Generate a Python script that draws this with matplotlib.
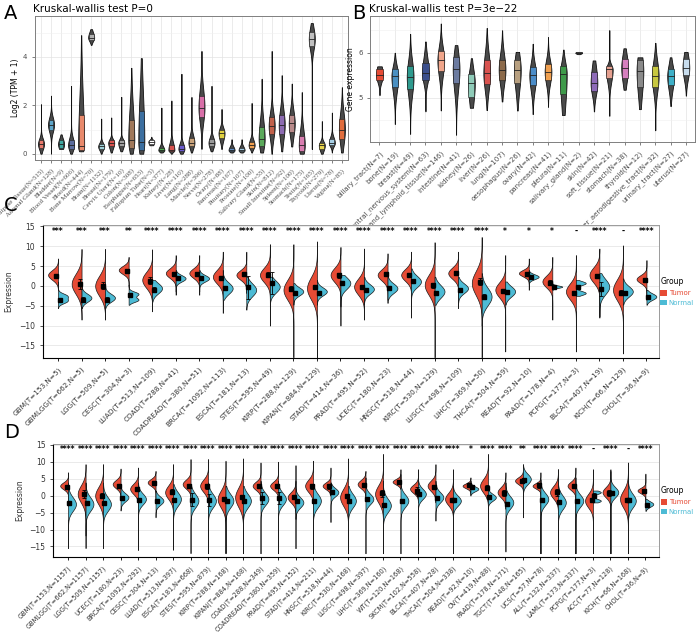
import numpy as np
import matplotlib.pyplot as plt
from matplotlib.patches import Patch

# ---------------- panel A: GTEx tissues (box stats, log2 TPM+1) ----------------
a_names = ['Adipose Tissue(N=515)', 'Adrenal Gland(N=128)', 'Bladder(N=9)', 'Blood Vessel(N=606)',
           'Blood(N=444)', 'Bone Marrow(N=70)', 'Brain(N=1152)', 'Breast(N=179)', 'Cervix Uteri(N=10)',
           'Colon(N=308)', 'Esophagus(N=653)', 'Fallopian Tube(N=5)', 'Heart(N=377)', 'Kidney(N=28)',
           'Liver(N=110)', 'Lung(N=288)', 'Muscle(N=396)', 'Nerve(N=278)', 'Ovary(N=88)',
           'Pancreas(N=167)', 'Pituitary(N=107)', 'Prostate(N=100)', 'Salivary Gland(N=55)',
           'Skin(N=812)', 'Small Intestine(N=92)', 'Spleen(N=100)', 'Stomach(N=175)', 'Testis(N=165)',
           'Thyroid(N=279)', 'Uterus(N=78)', 'Vagina(N=85)']
a_min = [0, 0, 0.2, 0, 0.1, 4.5, 0, 0.05, 0.1, 0, 0, 0.35, 0.05, 0, 0, 0.05, 0.2, 0.1, 0.2, 0.05,
         0.05, 0.05, 0.05, 0, 0.1, 0.3, 0, 0.2, 0, 0.05, 0.05]
a_q1 = [0.25, 1.0, 0.25, 0.2, 0.15, 4.7, 0.2, 0.3, 0.3, 0.25, 0.15, 0.4, 0.1, 0.1, 0.1, 0.3, 1.5,
        0.3, 0.65, 0.1, 0.1, 0.25, 0.3, 0.8, 0.8, 0.9, 0.1, 4.45, 0.2, 0.35, 0.6]
a_med = [0.4, 1.2, 0.4, 0.35, 0.3, 4.8, 0.3, 0.45, 0.45, 0.55, 0.5, 0.5, 0.15, 0.15, 0.2, 0.45, 1.9,
         0.45, 0.85, 0.15, 0.15, 0.35, 0.6, 1.15, 1.2, 1.25, 0.35, 4.75, 0.35, 0.45, 1.0]
a_q3 = [0.55, 1.4, 0.55, 0.55, 1.6, 4.95, 0.4, 0.55, 0.55, 1.4, 1.75, 0.55, 0.25, 0.35, 0.35, 0.65,
        2.4, 0.6, 1.0, 0.25, 0.25, 0.5, 1.1, 1.5, 1.6, 1.6, 0.75, 5.05, 0.45, 0.6, 1.45]
a_max = [2.05, 2.4, 0.8, 2.8, 4.9, 5.15, 1.45, 1.5, 2.35, 3.55, 3.95, 0.7, 1.9, 2.2, 3.3, 2.35, 4.25,
         2.8, 1.85, 0.6, 0.6, 2.1, 3.1, 4.25, 3.25, 2.9, 2.55, 5.4, 1.35, 1.7, 2.75]
a_cols = ['#E8796B', '#5DA5C9', '#3FA7A0', '#5B6C9E', '#E8896B', '#B0B0B0', '#9ED0D8', '#D9534F',
          '#A0A0A0', '#A0785A', '#3C6FA0', '#FFFFFF', '#4CAF50', '#D9534F', '#6A5ACD', '#C8A27A',
          '#D86FA8', '#9A9A9A', '#E0D040', '#5C8BC0', '#9EC9E2', '#F0A050', '#5BA95B', '#C0604A',
          '#8C6BB1', '#B88A8A', '#D97DB0', '#C0C0C0', '#E8D44D', '#A8D0E6', '#E06C3C']

# ---------------- panel B: CCLE cell lines ----------------
b_names = ['biliary_tract(N=7)', 'bone(N=19)', 'breast(N=49)', 'central_nervous_system(N=63)',
           'haematopoietic_and_lymphoid_tissue(N=146)', 'intestine(N=41)', 'kidney(N=26)',
           'liver(N=26)', 'lung(N=107)', 'oesophagus(N=26)', 'ovary(N=42)', 'pancreas(N=41)',
           'pleura(N=11)', 'salivary_gland(N=2)', 'skin(N=42)', 'soft_tissue(N=21)', 'stomach(N=38)',
           'thyroid(N=12)', 'upper_aerodigestive_tract(N=32)', 'urinary_tract(N=27)', 'uterus(N=27)']
b_min = [5.06, 4.42, 4.2, 4.7, 4.72, 4.18, 4.78, 4.73, 4.92, 4.72, 4.64, 4.8, 4.62, 5.97, 4.7, 4.6,
         5.18, 4.75, 4.28, 4.82, 5.05]
b_q1 = [5.4, 5.25, 5.2, 5.4, 5.6, 5.33, 5.03, 5.3, 5.4, 5.33, 5.28, 5.4, 5.08, 5.985, 5.15, 5.45,
        5.45, 5.25, 5.25, 5.28, 5.5]
b_med = [5.5, 5.48, 5.46, 5.55, 5.83, 5.64, 5.33, 5.55, 5.62, 5.62, 5.5, 5.58, 5.53, 6.0, 5.32, 5.63,
         5.67, 5.6, 5.48, 5.48, 5.67]
b_q3 = [5.65, 5.63, 5.7, 5.77, 6.03, 5.9, 5.53, 5.83, 5.85, 5.85, 5.68, 5.75, 5.7, 6.015, 5.57, 5.7,
        5.87, 5.85, 5.7, 5.65, 5.87]
b_max = [5.7, 6.0, 6.42, 6.25, 6.65, 6.17, 5.88, 6.55, 6.5, 6.02, 6.2, 6.35, 6.07, 6.02, 5.83, 6.5,
         6.1, 5.9, 6.22, 5.9, 6.02]
b_cols = ['#E64B35', '#4A90C2', '#2E9A8E', '#3B4F8C', '#F0A58A', '#6C7BA0', '#8FCBB8', '#D9534F',
          '#8C6A4A', '#B8A080', '#4A8CC8', '#F0A050', '#3E9A4A', '#888888', '#8E6BB8', '#E5A090',
          '#D67FBF', '#8A8A8A', '#C8C840', '#3EB0C8', '#C8DDEE']

# ---------------- panel C: tumor vs normal (TCGA) ----------------
c_names = ['GBM(T=153,N=5)', 'GBMLGG(T=662,N=5)', 'LGG(T=509,N=5)', 'CESC(T=304,N=3)',
           'LUAD(T=513,N=109)', 'COAD(T=288,N=41)', 'COADREAD(T=380,N=51)', 'BRCA(T=1092,N=113)',
           'ESCA(T=181,N=13)', 'STES(T=595,N=49)', 'KIRP(T=288,N=129)', 'KIPAN(T=884,N=129)',
           'STAD(T=414,N=36)', 'PRAD(T=495,N=52)', 'UCEC(T=180,N=23)', 'HNSC(T=518,N=44)',
           'KIRC(T=530,N=129)', 'LUSC(T=498,N=109)', 'LIHC(T=369,N=50)', 'THCA(T=504,N=59)',
           'READ(T=92,N=10)', 'PAAD(T=178,N=4)', 'PCPG(T=177,N=3)', 'BLCA(T=407,N=19)',
           'KICH(T=66,N=129)', 'CHOL(T=36,N=9)']
c_stars = ['***', '***', '***', '**'] + ['****'] * 15 + ['*', '*', '*', '-', '****', '-', '****']
c_t_mid = [2.75, 0.5, 0, 4, 1.5, 3.2, 3.2, 2.3, 2.75, 2.75, -1, -0.6, 2.75, -0.2, 2.75, 2.75, 0.25,
           3.2, 0.7, -1, 3.2, 1.1, -1.4, 2.75, -1, 1.7]
c_t_sd = [1.2, 2.5, 2.5, 1.0, 2.0, 1.2, 1.2, 1.7, 1.2, 1.8, 2.5, 2.8, 1.8, 2.0, 1.4, 1.5, 2.5, 1.4,
          3.0, 1.9, 0.8, 1.5, 2.0, 1.9, 2.6, 1.0]
c_t_lo = [-1, -8.5, -8.5, 0, -6.4, -2.25, -2.25, -6.8, -1.8, -10, -18, -18, -10, -8.5, -4.3, -8,
          -18, -5.6, -18, -16.5, -1, -8.5, -16.5, -8, -17, -3.5]
c_t_hi = [6.9, 9.3, 9.3, 7.3, 9.2, 7.75, 7.75, 8.6, 8.6, 10.5, 10.5, 11.2, 9.8, 9.4, 8.2, 8.6, 11,
          8.6, 12.3, 7.75, 6.9, 7.3, 7.75, 9.4, 10.2, 6.5]
c_n_mid = [-2.5, -3, -3, -2, -0.6, 1.9, 1.9, -0.6, -1, -0.2, -1.4, -1.4, 0.7, -0.8, -0.6, 1.1, -1.4,
           -0.6, -2.7, -1.4, 2.3, -0.2, 0.7, -0.2, -1.4, -2.7]
c_n_mid2 = [-3.8, np.nan, np.nan, -3.5, np.nan, np.nan, np.nan, np.nan, np.nan, np.nan, np.nan,
            np.nan, np.nan, np.nan, np.nan, np.nan, np.nan, np.nan, np.nan, np.nan, np.nan, np.nan,
            -1.8, np.nan, np.nan, np.nan]
c_n_sd = [0.6, 1.0, 1.0, 0.55, 1.3, 0.8, 0.8, 1.4, 1.6, 1.5, 1.0, 1.0, 1.5, 1.2, 1.2, 1.4, 1.6, 1.2,
          2.2, 1.3, 0.6, 0.3, 0.5, 1.9, 1.3, 0.8]
c_n_lo = [-5.6, -5.6, -5.6, -4.75, -4, -1.4, -1.4, -3.5, -6, -5.2, -4.75, -4.75, -5.2, -4.75, -3.5,
          -4.75, -4.75, -4.2, -10, -4.75, 0.5, -1, -2.5, -7.7, -4.75, -4.75]
c_n_hi = [1.1, 0.7, 0.7, 0.25, 1.5, 4, 4, 4, 2.3, 2.3, 0.7, 1.5, 2.75, 2.3, 2.75, 4.4, 2.3, 2.3,
          3.2, 1.1, 4, 0.6, 1.5, 3.2, 1.9, -1]
c_t_pt = [2.6, 0.5, 0, 3.7, 1.3, 3, 3, 2, 3, 2.8, -0.7, -0.3, 2.7, -0.3, 3, 2.75, 0.1, 3.2, 1.1,
          -1.4, 2.9, 0.8, -1.7, 2.5, -1.7, 1.5]
c_n_pt = [-3.5, -3.5, -3.5, -2.3, -1, 2, 2, -0.5, -0.3, 0.8, -1.7, -1.7, 0.8, -1, -0.6, 1.3, -1.8,
          -1, -2.7, -1.6, 2.2, -0.3, -0.2, -0.8, -1.7, -2.9]
c_t_err = [0.5, 1.3, 0.9, 0.5, 0.9, 0.5, 0.5, 0.6, 0.5, 0.6, 0.6, 0.5, 0.6, 0.5, 0.5, 0.5, 0.6, 0.5,
           1.0, 0.5, 0.5, 0.7, 0.5, 0.5, 0.6, 0.5]
c_n_err = [0.5, 0.6, 0.6, 0.5, 0.6, 0.4, 0.4, 0.5, 2.9, 2.8, 0.5, 0.5, 0.5, 0.5, 0.5, 0.5, 0.5, 0.5,
           0.6, 0.5, 0.4, 0.3, 0.5, 1.8, 0.5, 0.5]

# ---------------- panel D: tumor vs normal (TCGA + GTEx) ----------------
d_names = ['GBM(T=153,N=1157)', 'GBMLGG(T=662,N=1157)', 'LGG(T=509,N=1157)', 'UCEC(T=180,N=23)',
           'BRCA(T=1092,N=292)', 'CESC(T=304,N=13)', 'LUAD(T=513,N=397)', 'ESCA(T=181,N=668)',
           'STES(T=595,N=879)', 'KIRP(T=288,N=168)', 'KIPAN(T=884,N=168)', 'COAD(T=288,N=349)',
           'COADREAD(T=380,N=359)', 'PRAD(T=495,N=152)', 'STAD(T=414,N=211)', 'HNSC(T=518,N=44)',
           'KIRC(T=530,N=168)', 'LUSC(T=498,N=397)', 'LIHC(T=369,N=160)', 'WT(T=120,N=168)',
           'SKCM(T=102,N=558)', 'BLCA(T=407,N=28)', 'THCA(T=504,N=338)', 'READ(T=92,N=10)',
           'OV(T=419,N=88)', 'PAAD(T=178,N=171)', 'TGCT(T=148,N=165)', 'UCS(T=57,N=78)',
           'ALL(T=132,N=337)', 'LAML(T=173,N=337)', 'PCPG(T=177,N=3)', 'ACC(T=77,N=128)',
           'KICH(T=66,N=168)', 'CHOL(T=36,N=9)']
d_stars = ['****'] * 23 + ['*', '****', '****', '**', '****', '****', '****', '-', '****', '-', '****']
d_t_mid = [2.9, 0.5, 0, 3.4, 2, 3.9, 1, 3.4, 2.9, -1, -0.5, 2.9, 2.9, -0.5, 2.9, 2.9, -0.5, 3.4, 0.5,
           4.1, 2, 2.9, -1, 2.9, 2.9, 1, 4.4, 2.9, 1, 2.9, -1.5, 1, -1, 1.5]
d_t_sd = [1.0, 2.5, 2.5, 1.2, 1.5, 1.0, 2.0, 1.3, 1.8, 2.5, 2.8, 1.2, 1.2, 1.5, 1.8, 1.0, 2.5, 1.2,
          2.5, 0.8, 1.2, 1.5, 1.8, 0.7, 2.0, 1.5, 1.0, 0.8, 1.8, 1.2, 2.0, 1.5, 2.5, 0.8]
d_t_lo = [-3, -11.8, -11.8, -0.5, -6.4, -1, -6.9, -3, -8.8, -17, -17, -1.5, -1.5, -6.9, -7.8, 0,
          -17, -1, -17, 2, -2, -2, -17, 0, -17, -3.9, -5.9, -17, -17, -17, -17, -17, -17, -3.5]
d_t_hi = [6.9, 9.3, 9.3, 8, 8.3, 7.3, 9.3, 10.8, 10.8, 10.3, 11, 9.8, 10, 9, 10.3, 8.3, 11, 7.3,
          12.3, 7.8, 7.3, 9.3, 7.8, 5.4, 12.3, 6.9, 8.8, 6.9, 7.8, 8.3, 7.8, 7.8, 9.8, 6.5]
d_n_mid = [-2.5, -2.5, -2.5, -0.5, -1, -1.5, -1, -1.5, -1.5, -1.5, -1.5, -1, -1, -2, -1.5, 1, -1.5,
           -1, -2.9, -1.5, 0.5, -0.5, -1.5, 2, -0.5, -2, 4.9, -1, -2, -1.5, 1, 1, -1.5, -2.5]
d_n_mid2 = [np.nan] * 30 + [-1.5, np.nan, np.nan, np.nan]
d_n_sd = [2.0, 2.0, 2.0, 1.2, 1.6, 1.2, 2.0, 2.0, 2.0, 2.0, 2.0, 1.8, 1.8, 1.5, 2.0, 1.2, 2.0, 1.5,
          2.0, 1.8, 1.5, 1.5, 1.5, 0.7, 1.0, 1.8, 1.5, 1.8, 2.0, 1.8, 0.5, 1.5, 2.0, 0.8]
d_n_lo = [-15.5, -15.5, -15.5, -4.4, -16, -6.4, -16, -17, -17, -17, -17, -17, -17, -15.5, -17, -7.8,
          -17, -17, -17, -17, -17, -7.4, -16.5, 0.5, -3.4, -16.5, -6.4, -17, -17, -17, -2, -17, -17,
          -4.5]
d_n_hi = [3.9, 3.9, 3.9, 3.4, 3.9, 1.5, 3.4, 2.9, 3.9, 2.9, 2.9, 4.4, 4.4, 4.4, 3.4, 3.9, 2.9, 5.4,
          4.4, 6.4, 7.8, 4.4, 2.9, 4.5, 2.9, 3.9, 9.3, 4.9, 7.8, 5.4, 1.5, 7.3, 4.9, -1]
d_t_pt = [2.5, 0.5, 0, 2.9, 2, 3.7, 1.2, 2.9, 2.7, -1, -0.3, 2.9, 2.9, -0.5, 2.7, 2.7, 0, 3.2, 0.7,
          4, 1.5, 2.5, -1.2, 3, 2.4, 0.7, 4.4, 3, 1, 2.9, -1.3, 0.8, -1.3, 1.5]
d_n_pt = [-2.3, -2.3, -2.3, -0.6, -1.3, -1.7, -1.3, -1.2, -1.3, -1.5, -1.7, -0.7, -0.7, -1.5, -1.5,
          1, -1.5, -1, -2.7, -1.5, 0.5, -0.8, -1.2, 2.5, -0.4, -2.4, 4.6, -1.2, -2, -1.5, 0, 0.8,
          -1.3, -2.9]
d_t_err = [0.4, 1.2, 0.8, 0.5, 0.4, 0.5, 0.8, 0.6, 0.6, 0.6, 0.5, 0.6, 0.6, 0.5, 0.6, 0.6, 0.5, 0.5,
           1.0, 0.4, 1.0, 0.6, 0.5, 0.5, 0.6, 0.9, 0.5, 0.8, 1.0, 0.5, 0.6, 0.8, 0.6, 0.5]
d_n_err = [0.5, 0.5, 0.5, 0.5, 0.5, 0.6, 0.5, 2.0, 1.8, 0.6, 0.5, 1.8, 1.8, 0.6, 0.6, 0.6, 0.6, 0.6,
           0.6, 0.5, 0.5, 0.6, 0.5, 0.5, 0.6, 0.6, 0.6, 0.6, 0.6, 0.6, 0.8, 0.6, 0.6, 0.5]

TUMOR = '#E64B35'
NORMAL = '#4DBBD5'


def shape(lo, hi, mids, sds):
    y = np.linspace(lo, hi, 300)
    d = np.zeros_like(y)
    for m, s in zip(mids, sds):
        d += np.exp(-0.5 * ((y - m) / s) ** 2)
    return y, d / d.max()


def box_shape(lo, q1, med, q3, hi):
    y = np.linspace(lo, hi, 300)
    sl = max((med - q1) / 0.674, 0.02)
    sr = max((q3 - med) / 0.674, 0.02)
    d = np.where(y < med, np.exp(-0.5 * ((y - med) / sl) ** 2), np.exp(-0.5 * ((y - med) / sr) ** 2))
    return y, d / d.max()


def bw_axes(ax):
    for sp in ax.spines.values():
        sp.set_color('#7f7f7f')
        sp.set_linewidth(0.7)
    ax.grid(True, which='major', color='#e3e3e3', lw=0.5)
    ax.grid(True, which='minor', color='#f0f0f0', lw=0.4)
    ax.set_axisbelow(True)
    ax.tick_params(length=2, width=0.5, labelsize=5, colors='#4d4d4d', which='major')
    ax.tick_params(which='minor', length=0)


def box_violin(ax, mins, q1s, meds, q3s, maxs, cols, vw, bw):
    for i in range(len(meds)):
        x = i + 1
        y, d = box_shape(mins[i], q1s[i], meds[i], q3s[i], maxs[i])
        ax.fill_betweenx(y, x - vw * d, x + vw * d, facecolor='#4a4a4a', edgecolor='#111111',
                         lw=0.6, zorder=2)
        ax.add_patch(plt.Rectangle((x - bw, q1s[i]), 2 * bw, q3s[i] - q1s[i], facecolor=cols[i],
                                   edgecolor='#222222', lw=0.4, zorder=3))
        ax.plot([x - bw, x + bw], [meds[i], meds[i]], color='#222222', lw=0.6, zorder=4)


def split_violins(ax, tm, tsd, tlo, thi, nm, nm2, nsd, nlo, nhi, tpt, npt, terr, nerr, w):
    for i in range(len(tm)):
        x = i + 1
        y, d = shape(tlo[i], thi[i], [tm[i]], [tsd[i]])
        ax.fill_betweenx(y, x - w * d, x, facecolor=TUMOR, edgecolor='#1a1a1a', lw=0.5, zorder=2)
        mids = [nm[i]] if np.isnan(nm2[i]) else [nm[i], nm2[i]]
        y, d = shape(nlo[i], nhi[i], mids, [nsd[i]] * len(mids))
        ax.fill_betweenx(y, x, x + w * d, facecolor=NORMAL, edgecolor='#1a1a1a', lw=0.5, zorder=2)
        ax.errorbar([x - 0.08], [tpt[i]], yerr=[terr[i]], fmt='s', ms=2.2, color='black',
                    capsize=1.3, elinewidth=0.6, capthick=0.6, zorder=4)
        ax.errorbar([x + 0.08], [npt[i]], yerr=[nerr[i]], fmt='s', ms=2.2, color='black',
                    capsize=1.3, elinewidth=0.6, capthick=0.6, zorder=4)


def tn_axes(ax, names, stars, fs):
    n = len(names)
    ax.set_ylim(-18.2, 15.3)
    ax.set_yticks([-15, -10, -5, 0, 5, 10, 15])
    ax.yaxis.grid(True, color='#e6e6e6', lw=0.6)
    ax.set_axisbelow(True)
    for s in ['top', 'right']:
        ax.spines[s].set_color('#9a9a9a')
        ax.spines[s].set_linewidth(0.7)
    for s in ['left', 'bottom']:
        ax.spines[s].set_color('black')
        ax.spines[s].set_linewidth(0.8)
    ax.set_xticks(range(1, n + 1))
    ax.set_xticklabels(names, rotation=45, ha='right', rotation_mode='anchor', fontsize=fs,
                       color='#333333')
    ax.tick_params(axis='y', labelsize=5.5, length=2, width=0.6, colors='#333333')
    ax.tick_params(axis='x', length=2, width=0.6)
    for i, s in enumerate(stars):
        ax.text(i + 1, 13.6, s, ha='center', va='center', fontsize=5.5, fontweight='bold')
    ax.set_ylabel('Expression', fontsize=5.5, color='#333333', labelpad=4)
    ax.legend(handles=[Patch(facecolor=TUMOR, label='Tumor'), Patch(facecolor=NORMAL, label='Normal')],
              title='Group', loc='center left', bbox_to_anchor=(0.995, 0.5), frameon=False,
              fontsize=5, title_fontsize=5.5, labelcolor=[TUMOR, NORMAL], handlelength=0.9,
              handleheight=0.9, handletextpad=0.3, borderaxespad=0.2, alignment='left')


fig = plt.figure(figsize=(7, 6.34), dpi=100)

# A
axA = fig.add_axes([0.05, 0.748, 0.447, 0.227])
box_violin(axA, a_min, a_q1, a_med, a_q3, a_max, a_cols, 0.3, 0.24)
axA.set_xlim(0.4, 31.6)
axA.set_ylim(-0.25, 5.7)
axA.set_yticks([0, 2, 4])
axA.set_yticks([1, 3, 5], minor=True)
axA.set_xticks(range(1, 32))
axA.set_xticklabels(a_names, rotation=45, ha='right', rotation_mode='anchor', fontsize=2.8,
                    family='Liberation Serif')
bw_axes(axA)
axA.set_ylabel('Log2 (TPM + 1)', fontsize=5.5, labelpad=2)
axA.set_title('Kruskal-wallis test P=0', loc='left', fontsize=7.5, pad=3, x=-0.005)

# B
axB = fig.add_axes([0.529, 0.776, 0.464, 0.199])
box_violin(axB, b_min, b_q1, b_med, b_q3, b_max, b_cols, 0.22, 0.2)
axB.set_xlim(0.4, 21.6)
axB.set_ylim(4.02, 6.82)
axB.set_yticks([5, 6])
axB.set_yticks([4.5, 5.5, 6.5], minor=True)
axB.set_xticks(range(1, 22))
axB.set_xticklabels(b_names, rotation=45, ha='right', rotation_mode='anchor', fontsize=3.0)
bw_axes(axB)
axB.set_ylabel('Gene expression', fontsize=5.5, labelpad=2)
axB.set_title('Kruskal-wallis test P=3e\u221222', loc='left', fontsize=7.5, pad=3, x=-0.005)

# C
axC = fig.add_axes([0.061, 0.435, 0.881, 0.21])
split_violins(axC, c_t_mid, c_t_sd, c_t_lo, c_t_hi, c_n_mid, c_n_mid2, c_n_sd, c_n_lo, c_n_hi,
              c_t_pt, c_n_pt, c_t_err, c_n_err, 0.42)
axC.set_xlim(0.35, 26.55)
tn_axes(axC, c_names, c_stars, 5.2)

# D
axD = fig.add_axes([0.076, 0.121, 0.866, 0.179])
split_violins(axD, d_t_mid, d_t_sd, d_t_lo, d_t_hi, d_n_mid, d_n_mid2, d_n_sd, d_n_lo, d_n_hi,
              d_t_pt, d_n_pt, d_t_err, d_n_err, 0.45)
axD.set_xlim(0.15, 34.8)
tn_axes(axD, d_names, d_stars, 4.8)

for lab, x, y in [('A', 0.006, 0.978), ('B', 0.503, 0.978), ('C', 0.006, 0.676), ('D', 0.006, 0.318)]:
    fig.text(x, y, lab, fontsize=14, ha='left', va='center')

fig.savefig('out.png', dpi=100)
